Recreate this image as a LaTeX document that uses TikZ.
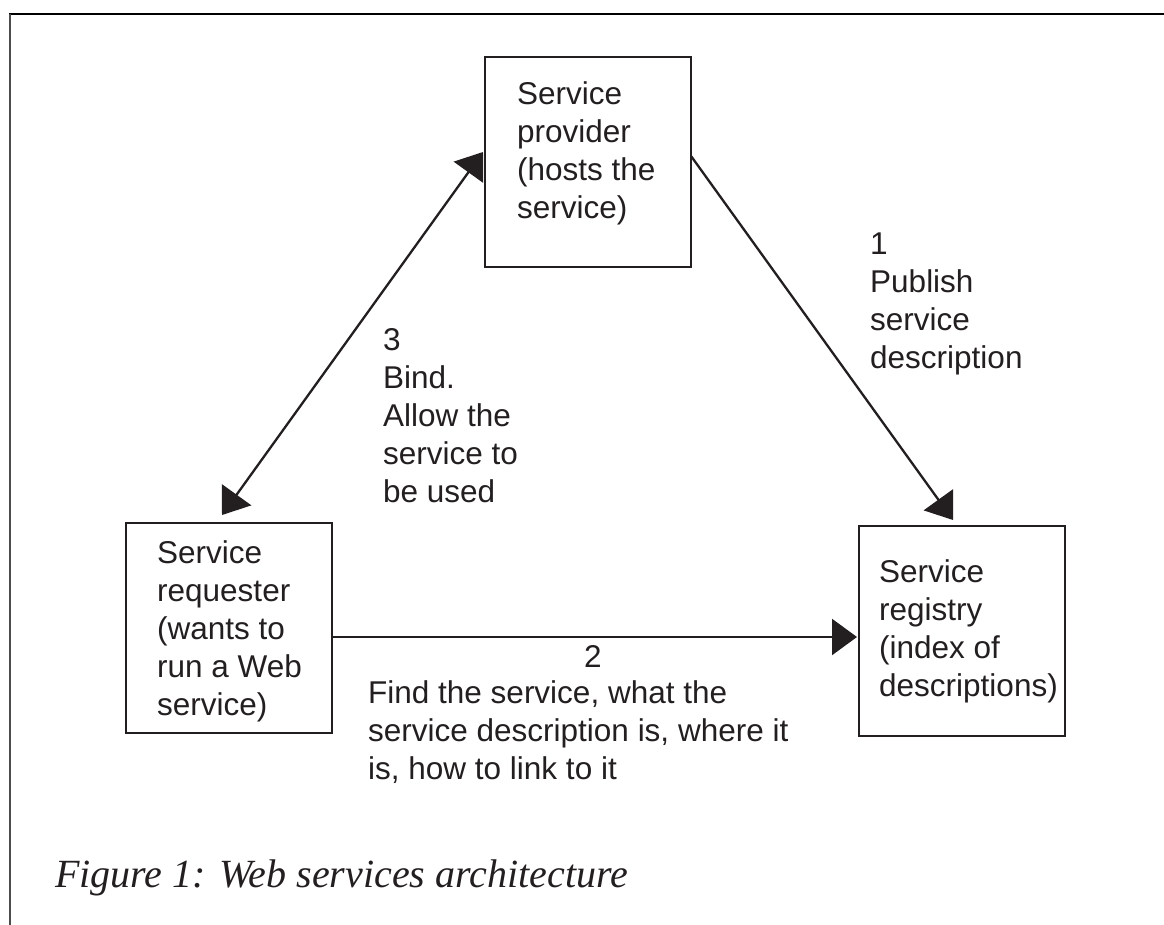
\documentclass[tikz,border=0pt]{standalone}
\usepackage{fontspec}
\setmainfont{Liberation Serif}
\setsansfont{Liberation Sans}
\usetikzlibrary{arrows.meta}
\definecolor{ink}{HTML}{231F20}
\tikzset{
  head/.tip={Triangle[length=25pt,width=36pt]},
  box/.style={draw=ink, line width=2.5pt, minimum width=206pt, minimum height=210pt,
    inner sep=0pt, outer sep=0pt, anchor=north west},
  % multi-line texts are placed by the baseline of their last line
  txt/.style={font=\sffamily\fontsize{31.5}{38}\selectfont, text=ink, align=left,
    anchor=base west, inner sep=0pt},
  conn/.style={draw=ink, fill=ink, line width=2.3pt},
  frame/.style={line width=2.3pt},
}
\begin{document}
\begin{tikzpicture}[x=1pt,y=-1pt]
\useasboundingbox (0,0) rectangle (1164,925);
% page frame
\draw[frame, black] (9,14) -- (1164,14);
\draw[frame, black!70] (10,14) -- (10,925);

% the three parties
\node[box] (prov) at (485,57) {};
\node[box] (req) at (126,523) {};
\node[box] (reg) at (859,526) {};

\node[txt] (provtxt) at (517,219) {Service\\provider\\(hosts the\\service)};
\node[txt] (reqtxt) at (157,715) {Service\\requester\\(wants to\\run a Web\\service)};
\node[txt] (regtxt) at (879,696) {Service\\registry\\(index of\\descriptions)};

% connector end points
\coordinate (bindR) at ([shift={(96,-8)}]req.north west);
\coordinate (bindP) at ([shift={(-2,95)}]prov.north west);
\coordinate (pubP) at ([shift={(0,99)}]prov.north east);
\coordinate (pubR) at ([shift={(94,-6)}]reg.north west);
\coordinate (findQ) at ([shift={(0,114)}]req.north east);
\coordinate (findR) at ([shift={(-2,111)}]reg.north west);

% connectors
\draw[conn, head-head] (bindR) -- (bindP);
\draw[conn, -head] (pubP) -- (pubR);
\draw[conn, -head] (findQ) -- (findR);

% connector labels
\node[txt] (pubtxt) at (870,368) {1\\Publish\\service\\description};
\node[txt] (bindtxt) at (383,502) {3\\Bind.\\Allow the\\service to\\be used};
\node[txt, anchor=base] (findnum) at (593,667) {2};
\node[txt] (findtxt) at (368,779) {Find the service, what the\\service description is, where it\\is, how to link to it};

% caption
\node[font=\itshape\fontsize{40}{44}\selectfont, text=ink, anchor=base west, inner sep=0pt]
  (caption) at (55,887) {Figure 1: Web services architecture};
\end{tikzpicture}
\end{document}
